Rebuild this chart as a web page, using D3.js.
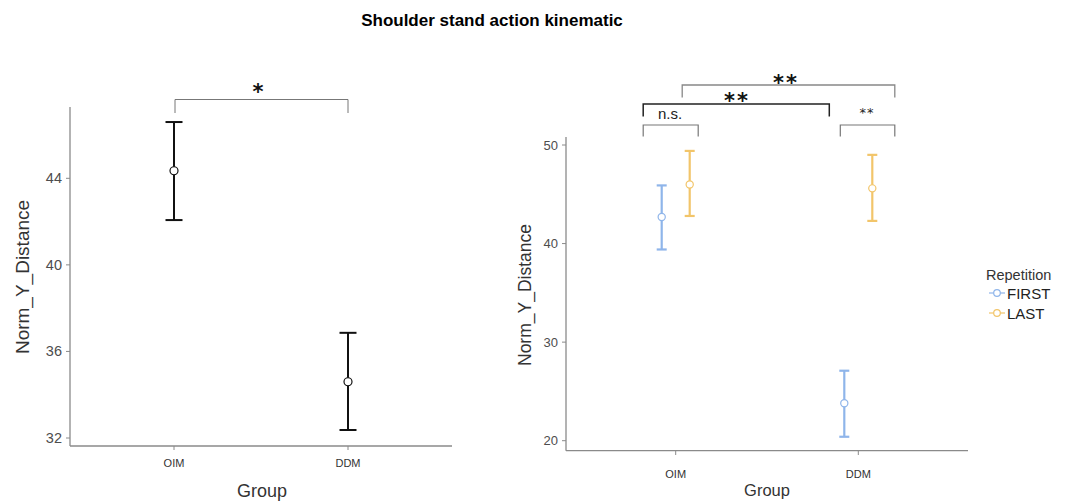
<!DOCTYPE html>
<html>
<head>
<meta charset="utf-8">
<script src="https://cdn.jsdelivr.net/npm/d3@7"></script>
<style>
  body { margin: 0; background: #fff; }
  text { font-family: "Liberation Sans", Arial, sans-serif; }
  text.star { font-family: "DejaVu Sans", sans-serif; font-weight: bold; }
  text.star.light { font-weight: normal; }
</style>
</head>
<body>
<div id="my_dataviz"></div>
<script>
// data
var groups = ["OIM", "DDM"];
var reps = ["FIRST", "LAST"];

// left panel: group means with error bars
var leftMean = [44.35, 34.6];
var leftLow = [42.07, 32.37];
var leftHigh = [46.6, 36.86];
var leftTicks = [32, 36, 40, 44];

// right panel: group x repetition
var rightMean = { FIRST: [42.7, 23.8], LAST: [46.0, 45.6] };
var rightLow = { FIRST: [39.4, 20.4], LAST: [42.8, 42.3] };
var rightHigh = { FIRST: [45.9, 27.1], LAST: [49.4, 49.0] };
var rightTicks = [20, 30, 40, 50];
var repColors = ["#8fb5ea", "#f2c56a"];

var axisColor = "#8a8a8a";
var tickTextColor = "#4d4d4d";

var svg = d3.select("#my_dataviz")
  .append("svg")
    .attr("width", 1078)
    .attr("height", 501);

svg.append("text")
  .attr("x", 492)
  .attr("y", 26)
  .attr("text-anchor", "middle")
  .attr("font-weight", "bold")
  .attr("font-size", 17)
  .text("Shoulder stand action kinematic");

// ---------- left panel ----------
var L = svg.append("g");

var xL = d3.scalePoint()
  .domain(groups)
  .range([174, 348]);

var yL = d3.scaleLinear()
  .domain([32, 44])
  .range([438, 178.3]);

// axes
L.append("line")
  .attr("x1", 70).attr("x2", 70)
  .attr("y1", yL(47.3)).attr("y2", 446)
  .attr("stroke", axisColor).attr("stroke-width", 1.3);
L.append("line")
  .attr("x1", 70).attr("x2", 452)
  .attr("y1", 446).attr("y2", 446)
  .attr("stroke", axisColor).attr("stroke-width", 1.3);

L.selectAll(".ytick").data(leftTicks).enter().append("line")
  .attr("x1", 66).attr("x2", 70)
  .attr("y1", function(d) { return yL(d); })
  .attr("y2", function(d) { return yL(d); })
  .attr("stroke", axisColor);
L.selectAll(".ylab").data(leftTicks).enter().append("text")
  .attr("x", 62)
  .attr("y", function(d) { return yL(d) + 5; })
  .attr("text-anchor", "end")
  .attr("font-size", 14.5)
  .attr("fill", tickTextColor)
  .text(function(d) { return d; });

L.selectAll(".xtick").data(groups).enter().append("line")
  .attr("x1", function(d) { return xL(d); })
  .attr("x2", function(d) { return xL(d); })
  .attr("y1", 446).attr("y2", 450)
  .attr("stroke", axisColor);
L.selectAll(".xlab").data(groups).enter().append("text")
  .attr("x", function(d) { return xL(d); })
  .attr("y", 467)
  .attr("text-anchor", "middle")
  .attr("font-size", 11)
  .attr("fill", "#333")
  .text(function(d) { return d; });

L.append("text")
  .attr("x", 262).attr("y", 497)
  .attr("text-anchor", "middle")
  .attr("font-size", 18)
  .attr("fill", "#333")
  .text("Group");
L.append("text")
  .attr("transform", "translate(29,277) rotate(-90)")
  .attr("text-anchor", "middle")
  .attr("font-size", 19)
  .attr("fill", "#333")
  .text("Norm_Y_Distance");

// error bars
groups.forEach(function(g, i) {
  var x = xL(g);
  L.append("line")
    .attr("x1", x).attr("x2", x)
    .attr("y1", yL(leftLow[i])).attr("y2", yL(leftHigh[i]))
    .attr("stroke", "#111").attr("stroke-width", 2);
  [leftLow[i], leftHigh[i]].forEach(function(v) {
    L.append("line")
      .attr("x1", x - 8.5).attr("x2", x + 8.5)
      .attr("y1", yL(v)).attr("y2", yL(v))
      .attr("stroke", "#111").attr("stroke-width", 2);
  });
  L.append("circle")
    .attr("cx", x).attr("cy", yL(leftMean[i]))
    .attr("r", 4)
    .attr("fill", "#fff").attr("stroke", "#111").attr("stroke-width", 1.2);
});

// significance bracket
function bracket(g, x1, x2, y, drop, color, width) {
  g.append("path")
    .attr("d", "M" + x1 + "," + (y + drop) + "V" + y + "H" + x2 + "V" + (y + drop))
    .attr("fill", "none")
    .attr("stroke", color)
    .attr("stroke-width", width);
}
bracket(L, xL("OIM") + 1, xL("DDM"), 99.5, 13.5, "#777", 1);
L.append("text")
  .attr("class", "star")
  .attr("x", 258).attr("y", 99)
  .attr("text-anchor", "middle")
  .attr("font-size", 21)
  .attr("fill", "#111")
  .text("*");

// ---------- right panel ----------
var R = svg.append("g");

var xR = d3.scalePoint()
  .domain(groups)
  .range([675.7, 858.3]);
var dodge = d3.scalePoint()
  .domain(reps)
  .range([-14, 14]);

var yR = d3.scaleLinear()
  .domain([20, 50])
  .range([440.7, 145]);

R.append("line")
  .attr("x1", 566).attr("x2", 566)
  .attr("y1", yR(50.8)).attr("y2", 450.7)
  .attr("stroke", axisColor).attr("stroke-width", 1.3);
R.append("line")
  .attr("x1", 566).attr("x2", 968)
  .attr("y1", 450.7).attr("y2", 450.7)
  .attr("stroke", axisColor).attr("stroke-width", 1.3);

R.selectAll(".ytick").data(rightTicks).enter().append("line")
  .attr("x1", 562).attr("x2", 566)
  .attr("y1", function(d) { return yR(d); })
  .attr("y2", function(d) { return yR(d); })
  .attr("stroke", axisColor);
R.selectAll(".ylab").data(rightTicks).enter().append("text")
  .attr("x", 558)
  .attr("y", function(d) { return yR(d) + 4.5; })
  .attr("text-anchor", "end")
  .attr("font-size", 13)
  .attr("fill", tickTextColor)
  .text(function(d) { return d; });

R.selectAll(".xtick").data(groups).enter().append("line")
  .attr("x1", function(d) { return xR(d); })
  .attr("x2", function(d) { return xR(d); })
  .attr("y1", 450.7).attr("y2", 455)
  .attr("stroke", axisColor);
R.selectAll(".xlab").data(groups).enter().append("text")
  .attr("x", function(d) { return xR(d); })
  .attr("y", 478)
  .attr("text-anchor", "middle")
  .attr("font-size", 11)
  .attr("fill", "#333")
  .text(function(d) { return d; });

R.append("text")
  .attr("x", 767).attr("y", 496)
  .attr("text-anchor", "middle")
  .attr("font-size", 16.5)
  .attr("fill", "#333")
  .text("Group");
R.append("text")
  .attr("transform", "translate(531,295) rotate(-90)")
  .attr("text-anchor", "middle")
  .attr("font-size", 17.5)
  .attr("fill", "#333")
  .text("Norm_Y_Distance");

reps.forEach(function(r, j) {
  groups.forEach(function(g, i) {
    var x = xR(g) + dodge(r);
    var c = repColors[j];
    R.append("line")
      .attr("x1", x).attr("x2", x)
      .attr("y1", yR(rightLow[r][i])).attr("y2", yR(rightHigh[r][i]))
      .attr("stroke", c).attr("stroke-width", 2.2);
    [rightLow[r][i], rightHigh[r][i]].forEach(function(v) {
      R.append("line")
        .attr("x1", x - 5).attr("x2", x + 5)
        .attr("y1", yR(v)).attr("y2", yR(v))
        .attr("stroke", c).attr("stroke-width", 2.2);
    });
    R.append("circle")
      .attr("cx", x).attr("cy", yR(rightMean[r][i]))
      .attr("r", 3.6)
      .attr("fill", "#fff").attr("stroke", c).attr("stroke-width", 1.2);
  });
});

// significance brackets
var oimF = xR("OIM") + dodge("FIRST"), oimL = xR("OIM") + dodge("LAST");
var ddmF = xR("DDM") + dodge("FIRST"), ddmL = xR("DDM") + dodge("LAST");
bracket(R, oimF - 18.5, oimL + 8.5, 125, 11.5, "#777", 1.2);
bracket(R, ddmF - 4, ddmL + 22.5, 125, 11.5, "#777", 1.2);
bracket(R, oimF - 18.5, ddmF - 15, 104, 12.5, "#222", 1.5);
bracket(R, oimL - 7.5, ddmL + 22.5, 85, 12.5, "#888", 1.3);

R.append("text")
  .attr("x", 670).attr("y", 119)
  .attr("text-anchor", "middle")
  .attr("font-size", 15)
  .attr("fill", "#222")
  .text("n.s.");
R.append("text")
  .attr("class", "star")
  .attr("x", 737).attr("y", 108)
  .attr("text-anchor", "middle")
  .attr("font-size", 21)
  .attr("letter-spacing", 2)
  .attr("fill", "#111")
  .text("**");
R.append("text")
  .attr("class", "star")
  .attr("x", 786).attr("y", 90)
  .attr("text-anchor", "middle")
  .attr("font-size", 21)
  .attr("letter-spacing", 2)
  .attr("fill", "#111")
  .text("**");
R.append("text")
  .attr("class", "star light")
  .attr("x", 867).attr("y", 117)
  .attr("text-anchor", "middle")
  .attr("font-size", 13)
  .attr("letter-spacing", 1)
  .attr("fill", "#222")
  .text("**");

// legend
var leg = svg.append("g");
leg.append("text")
  .attr("x", 986).attr("y", 280)
  .attr("font-size", 14.5)
  .attr("fill", "#333")
  .text("Repetition");
reps.forEach(function(r, j) {
  var y = 293 + j * 20;
  leg.append("line")
    .attr("x1", 989).attr("x2", 1005)
    .attr("y1", y).attr("y2", y)
    .attr("stroke", repColors[j]).attr("stroke-width", 1.2);
  leg.append("circle")
    .attr("cx", 997).attr("cy", y)
    .attr("r", 3.3)
    .attr("fill", "#fff").attr("stroke", repColors[j]).attr("stroke-width", 1.2);
  leg.append("text")
    .attr("x", 1007).attr("y", y + 5.5)
    .attr("font-size", 15)
    .attr("fill", "#222")
    .text(r);
});
</script>
</body>
</html>
